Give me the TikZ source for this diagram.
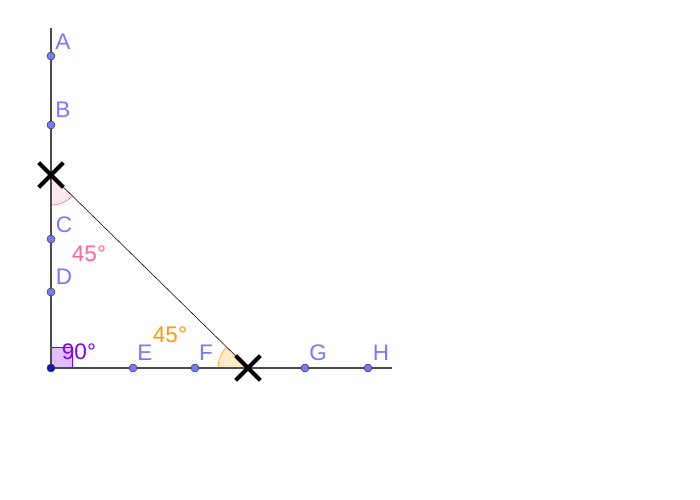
\documentclass[tikz,border=0pt]{standalone}
\usepackage{fontspec}
\setsansfont{Liberation Sans}
\usepackage{tikz}
\usetikzlibrary{calc}
\usetikzlibrary{shapes.misc}
\definecolor{ptblue}{RGB}{120,120,255}
\definecolor{ptdark}{RGB}{20,20,190}
\definecolor{angpink}{RGB}{255,102,153}
\definecolor{angorange}{RGB}{255,153,0}
\definecolor{angpurple}{RGB}{127,0,255}
\tikzset{
	pt/.style={circle,draw=black!75,fill=ptblue,inner sep=0pt,minimum size=0.2cm,line width=0.4pt},
	lbl/.style={text=ptblue,inner sep=0pt},
	axis/.style={draw=black!70,line width=1pt},
	crossmark/.style={cross out,draw=black,line width=2.8pt,inner sep=0pt,minimum size=0.52cm}
}

\begin{document}
\begin{tikzpicture}[x=0.025cm,y=0.025cm,font=\sffamily\fontsize{16}{19}\selectfont]
	\useasboundingbox (0,0) rectangle (700,500);
	\coordinate (O) at (51,132);
	\coordinate (ytop) at (51,472);
	\coordinate (xend) at (392,132);
	\coordinate (P) at (51,325);
	\coordinate (Q) at (248,132);
	% angle marks
	\fill[angpink!15] (P) -- ($(P)+(270:30)$) arc (270:315.6:30) -- cycle;
	\draw[angpink,line width=0.4pt] ($(P)+(270:30)$) arc (270:315.6:30);
	\fill[angorange!20] (Q) -- ($(Q)+(135.6:30)$) arc (135.6:180:30) -- cycle;
	\draw[angorange,line width=0.4pt] ($(Q)+(135.6:30)$) arc (135.6:180:30);
	\filldraw[fill=angpurple!25,draw=angpurple,line width=0.6pt] (O) rectangle ++(21,21);
	% lines
	\draw[axis] (ytop) -- (O) -- (xend);
	\draw[black,line width=0.4pt] (P) -- (Q);
	% points
	\node[pt] (A) at (51,444) {};
	\node[pt] (B) at (51,375) {};
	\node[pt] (C) at (51,261) {};
	\node[pt] (D) at (51,208) {};
	\node[pt] (E) at (133,132) {};
	\node[pt] (F) at (195,132) {};
	\node[pt] (G) at (305,132) {};
	\node[pt] (H) at (368,132) {};
	\node[pt,fill=ptdark] (orig) at (O) {};
	\node[lbl] (labA) at (63,458) {A};
	\node[lbl] (labB) at (63,390) {B};
	\node[lbl] (labC) at (64,275) {C};
	\node[lbl] (labD) at (64,223) {D};
	\node[lbl] (labE) at (145,147) {E};
	\node[lbl] (labF) at (206,147) {F};
	\node[lbl] (labG) at (318,147) {G};
	\node[lbl] (labH) at (381,147) {H};
	% angle values
	\node[text=angpink,inner sep=0pt] (angP) at (89,246) {45°};
	\node[text=angorange,inner sep=0pt] (angQ) at (170,165) {45°};
	\node[text=angpurple,inner sep=0pt] (angO) at (79,148) {90°};
	% crosses
	\node[crossmark] (crossP) at (P) {};
	\node[crossmark] (crossQ) at (Q) {};
\end{tikzpicture}
\end{document}
